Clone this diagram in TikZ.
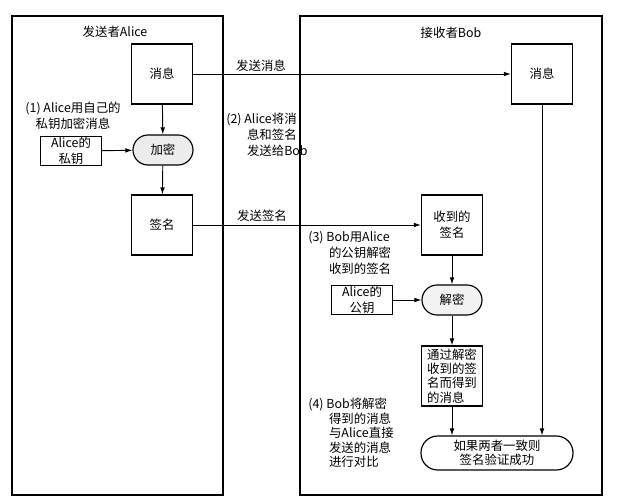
\documentclass[tikz,border=0pt]{standalone}
\usepackage{fontspec}
\setmainfont{Noto Sans CJK SC}
\usetikzlibrary{arrows.meta,positioning}
\newcommand{\hang}{\hspace*{0.62cm}}

\begin{document}
\begin{tikzpicture}[x=0.03cm, y=-0.03cm, line width=0.8pt,
    every node/.style={font=\fontsize{10.6}{13.5}\selectfont},
    box/.style={draw, line width=1pt, align=center, minimum width=1.83cm, minimum height=1.8cm},
    keybox/.style={draw, line width=1pt, align=center, minimum width=1.83cm, minimum height=0.84cm, inner sep=1pt},
    op/.style={draw, line width=1pt, align=center, fill=gray!15, rounded corners=0.45cm, minimum width=1.8cm, minimum height=0.9cm},
    arr/.style={-{Latex[length=6pt,width=4pt]}}]
  \useasboundingbox (0,0) rectangle (630,504);
  \draw[line width=1pt] (12,16) rectangle (223,495);
  \draw[line width=1pt] (300,16) rectangle (602,495);
  \node (atitle) at (115,32) {发送者Alice};
  \node (btitle) at (451,33) {接收者Bob};

  \node[box] (amsg) at (162,74) {消息};
  \node[op] (enc) at (163,150) {加密};
  \node[keybox] (akey) at (71,151) {Alice的\\私钥};
  \node[box] (asig) at (162,225) {签名};
  \node[align=center] (step1) at (73,116) {(1) Alice用自己的\\私钥加密消息};

  \node[box] (bmsg) at (542,74) {消息};
  \node[box] (bsig) at (452,225) {收到的\\签名};
  \node[keybox] (bkey) at (362,300) {Alice的\\公钥};
  \node[op, fill=gray!10] (dec) at (452,300) {解密};
  \node[box, align=left, inner sep=1pt, font=\fontsize{10.6}{12.3}\selectfont] (plain) at (452,376) {通过解密\\收到的签\\名而得到\\的消息};
  \node[op, fill=none, rounded corners=0.5cm, minimum width=4.56cm, minimum height=1.02cm,
        font=\fontsize{10.6}{12.3}\selectfont] (result) at (497,453) {如果两者一致则\\签名验证成功};

  \node[anchor=west, align=left] (step2) at (222,135) {(2) Alice将消\\\hang 息和签名\\\hang 发送给Bob};
  \node[anchor=west, align=left] (step3) at (304,253) {(3) Bob用Alice\\\hang 的公钥解密\\\hang 收到的签名};
  \node[anchor=west, align=left, font=\fontsize{10.6}{12.3}\selectfont] (step4) at (304,433)
        {(4) Bob将解密\\\hang 得到的消息\\\hang 与Alice直接\\\hang 发送的消息\\\hang 进行对比};
  \node (sendmsg) at (261,66) {发送消息};
  \node (sendsig) at (262,216) {发送签名};

  \draw[arr] (amsg) -- (enc);
  \draw[arr] (akey) -- (enc);
  \draw[arr] (enc) -- (asig);
  \draw[arr] (amsg) -- (bmsg);
  \draw[arr] (asig) -- (bsig);
  \draw[arr] (bsig) -- (dec);
  \draw[arr] (bkey) -- (dec);
  \draw[arr] (dec) -- (plain);
  \draw[arr] (plain) -- (plain |- result.north);
  \draw[arr] (bmsg) -- (bmsg |- result.north);
\end{tikzpicture}
\end{document}
